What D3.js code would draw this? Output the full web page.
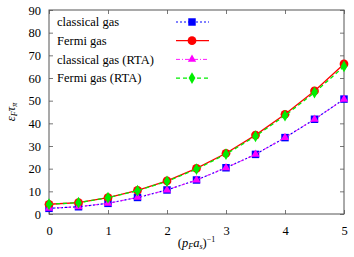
<!DOCTYPE html>
<html>
<head>
<meta charset="utf-8">
<script src="https://cdn.jsdelivr.net/npm/d3@7"></script>
<style>
  body { margin: 0; background: #fff; }
  text { font-family: "Liberation Serif", "DejaVu Serif", serif; }
</style>
</head>
<body>
<div id="canvas" class="canvas"></div>
<script>
// --- data
var xs = [0, 0.5, 1, 1.5, 2, 2.5, 3, 3.5, 4, 4.5, 5];
var classical    = [2.5, 3.2, 4.7, 7.3, 10.6, 15.0, 20.4, 26.3, 33.7, 41.8, 50.7];
var fermi        = [4.3, 5.0, 7.2, 10.4, 14.6, 20.1, 26.8, 34.8, 44.0, 54.3, 66.2];
var classicalRTA = [2.5, 3.2, 4.7, 7.3, 10.6, 15.0, 20.4, 26.3, 33.7, 41.8, 50.6];
var fermiRTA     = [4.3, 5.0, 7.2, 10.3, 14.4, 19.8, 26.4, 34.3, 43.4, 53.6, 65.1];
var seriesNames = ['classical gas', 'Fermi gas', 'classical gas (RTA)', 'Fermi gas (RTA)'];
var xTicks = [0, 1, 2, 3, 4, 5];
var yTicks = [0, 10, 20, 30, 40, 50, 60, 70, 80, 90];

// --- Margin convention
var outerWidth = 354, outerHeight = 257;
var M = {top: 10, right: 10, bottom: 43, left: 49};
var w = outerWidth - M.left - M.right,
    h = outerHeight - M.top - M.bottom;

var svg = d3.select('.canvas')
    .append('svg')
    .attr('width', outerWidth)
    .attr('height', outerHeight);

var plot = svg.append('g')
    .attr('transform', 'translate(' + M.left + ',' + M.top + ')');

var x = d3.scaleLinear().domain([0, 5]).range([0, w]);
var y = d3.scaleLinear().domain([0, 90]).range([h, 0]);

var axisColor = '#555';

// --- axes with inward ticks, mirrored on top/right
function styleAxis(g) {
    g.select('.domain').remove();
    g.selectAll('.tick line').attr('stroke', axisColor).attr('stroke-width', 0.8);
    g.selectAll('.tick text').attr('fill', '#000').style('font-size', '12.5px');
}

plot.append('g')
    .attr('transform', 'translate(0,' + h + ')')
    .call(d3.axisBottom(x).tickValues(xTicks).tickSize(-4).tickPadding(12).tickFormat(d3.format('d')))
    .call(styleAxis);

plot.append('g')
    .call(d3.axisTop(x).tickValues(xTicks).tickSize(-4).tickFormat(''))
    .call(styleAxis);

plot.append('g')
    .call(d3.axisLeft(y).tickValues(yTicks).tickSize(-4).tickPadding(8).tickFormat(d3.format('d')))
    .call(styleAxis);

plot.append('g')
    .attr('transform', 'translate(' + w + ',0)')
    .call(d3.axisRight(y).tickValues(yTicks).tickSize(-4).tickFormat(''))
    .call(styleAxis);

plot.append('rect')
    .attr('width', w)
    .attr('height', h)
    .attr('fill', 'none')
    .attr('stroke', axisColor)
    .attr('stroke-width', 1);

// --- series
var series = [
    {name: seriesNames[0], vals: classical,    color: '#0000ff', dash: '2,2',     width: 1.2, shape: d3.symbolSquare,   size: 56},
    {name: seriesNames[1], vals: fermi,        color: '#ff0000', dash: null,      width: 1.3, shape: d3.symbolCircle,   size: 60},
    {name: seriesNames[2], vals: classicalRTA, color: '#ff00ff', dash: '4,2,1,2', width: 0.9, shape: d3.symbolTriangle, size: 30},
    {name: seriesNames[3], vals: fermiRTA,     color: '#00ee00', dash: '4,3',     width: 1.3, shape: d3.symbolDiamond,  size: 40}
];

var line = d3.line()
    .x(function(d) { return x(d[0]); })
    .y(function(d) { return y(d[1]); });

series.forEach(function(s) {
    var pts = xs.map(function(v, i) { return [v, s.vals[i]]; });
    plot.append('path')
        .datum(pts)
        .attr('d', line)
        .attr('fill', 'none')
        .attr('stroke', s.color)
        .attr('stroke-width', s.width)
        .attr('stroke-dasharray', s.dash);
    plot.selectAll(null)
        .data(pts)
        .enter()
        .append('path')
        .attr('d', d3.symbol().type(s.shape).size(s.size))
        .attr('transform', function(d) { return 'translate(' + x(d[0]) + ',' + y(d[1]) + ')'; })
        .attr('fill', s.color);
});

// --- legend
var legend = svg.append('g');
series.forEach(function(s, i) {
    var ly = 22 + i * 18.7;
    legend.append('text')
        .attr('x', 57)
        .attr('y', ly)
        .attr('dy', '0.35em')
        .style('font-size', '12.5px')
        .text(s.name);
    legend.append('line')
        .attr('x1', 176).attr('x2', 209)
        .attr('y1', ly).attr('y2', ly)
        .attr('stroke', s.color)
        .attr('stroke-width', s.width)
        .attr('stroke-dasharray', s.dash);
    legend.append('path')
        .attr('d', d3.symbol().type(s.shape).size(s.size))
        .attr('transform', 'translate(192,' + ly + ')')
        .attr('fill', s.color);
});

// --- axis titles
var xt = svg.append('text')
    .attr('x', M.left + x(2.5))
    .attr('y', 247)
    .attr('text-anchor', 'middle')
    .style('font-size', '12.5px');
xt.append('tspan').text('(');
xt.append('tspan').style('font-style', 'italic').text('p');
xt.append('tspan').style('font-style', 'italic').style('font-size', '8px').attr('dy', 2).text('F');
xt.append('tspan').style('font-style', 'italic').attr('dy', -2).text('a');
xt.append('tspan').style('font-style', 'italic').style('font-size', '8px').attr('dy', 2).text('s');
xt.append('tspan').attr('dy', -2).text(')');
xt.append('tspan').style('font-size', '8px').attr('dy', -5).text('−1');

var yt = svg.append('text')
    .attr('transform', 'translate(15,' + (M.top + h / 2) + ') rotate(-90)')
    .attr('text-anchor', 'middle')
    .style('font-size', '12.5px');
yt.append('tspan').style('font-style', 'italic').text('ε');
yt.append('tspan').style('font-style', 'italic').style('font-size', '8px').attr('dy', 2).text('F');
yt.append('tspan').style('font-style', 'italic').attr('dy', -2).text('τ');
yt.append('tspan').style('font-style', 'italic').style('font-size', '8px').attr('dy', 2).text('π');
</script>
</body>
</html>
